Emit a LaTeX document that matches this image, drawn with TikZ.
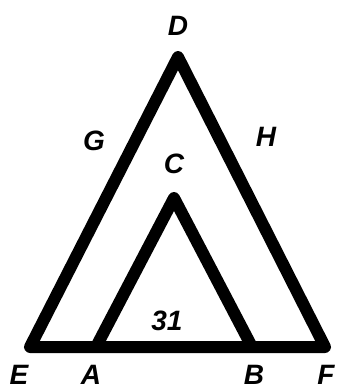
\documentclass[tikz,border=0pt]{standalone}
\usepackage{fontspec}
\setmainfont{Liberation Sans}
\begin{document}
\begin{tikzpicture}[x=1pt,y=-1pt,
  edge/.style={line width=12pt,line join=round,line cap=round},
  lbl/.style={font=\fontsize{28}{28}\selectfont\bfseries\itshape,inner sep=0pt}]
\useasboundingbox (0,0) rectangle (340,391);
\coordinate (D) at (178,57);
\coordinate (E) at (30,347);
\coordinate (F) at (325,347);
\coordinate (C) at (174,198);
\coordinate (A) at (96,347);
\coordinate (B) at (252,347);
\draw[edge] (E) -- (D) -- (F) -- cycle;
\draw[edge] (A) -- (C) -- (B);
\node[lbl] (lD) at (178,26) {D};
\node[lbl] (lC) at (174,164) {C};
\node[lbl] (lG) at (94,141) {G};
\node[lbl] (lH) at (266,137) {H};
\node[lbl] (lE) at (19,375) {E};
\node[lbl] (lA) at (91,375) {A};
\node[lbl] (lB) at (254,375) {B};
\node[lbl] (lF) at (326,375) {F};
\node[lbl] (l31) at (167,321) {31};
\end{tikzpicture}
\end{document}
